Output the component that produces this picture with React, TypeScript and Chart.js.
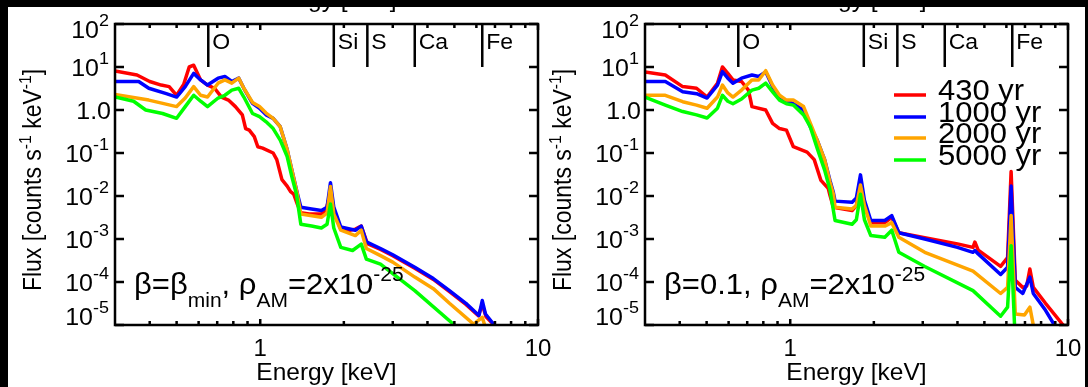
import { useEffect, useRef } from "react";
import { Chart, registerables } from "chart.js";
Chart.register(...registerables);

// ---------- data ----------
const SERIES_LABELS = ["430 yr", "1000 yr", "2000 yr", "5000 yr"];
const SERIES_COLORS = ["#ff0000", "#0000ff", "#ffa500", "#00ff00"];

const LINE_NAMES = ["O", "Si", "S", "Ca", "Fe"];
const LINE_ENERGIES = [0.65, 1.84, 2.43, 3.6, 6.3];

const X_MIN = 0.3;
const X_MAX = 10;
const Y_MIN = 1e-5;
const Y_MAX = 100;
const X_MAJOR_TICKS = [1, 10];
const X_MAJOR_LABELS = ["1", "10"];
const X_MINOR_TICKS = [0.4, 0.5, 0.6, 0.7, 0.8, 0.9, 2, 3, 4, 5, 6, 7, 8, 9];
const Y_DECADES = [2, 1, 0, -1, -2, -3, -4, -5];

// Left panel: beta = beta_min
const L430_E = [0.30, 0.36, 0.40, 0.44, 0.47, 0.50, 0.53, 0.555, 0.576, 0.61, 0.646, 0.685, 0.725, 0.768, 0.814, 0.862, 0.886, 0.913, 0.952, 0.98, 1.02, 1.113, 1.147, 1.197, 1.25, 1.286, 1.32, 1.36, 1.40, 1.50, 1.66, 1.73, 1.79, 1.85, 1.95, 2.10, 2.20, 2.31, 2.43, 2.71, 3.0, 3.6, 4.2, 4.8, 5.5, 6.1, 6.3, 6.5, 7.0, 7.5];
const L430_F = [8.1, 6.5, 4.6, 3.8, 3.5, 2.2, 3.9, 10, 11, 5.0, 3.8, 3.2, 2.0, 1.7, 1.2, 0.77, 0.37, 0.34, 0.24, 0.14, 0.13, 0.10, 0.07, 0.024, 0.017, 0.0126, 0.011, 0.0065, 0.0041, 0.0038, 0.0038, 0.005, 0.012, 0.004, 0.0017, 0.0016, 0.0017, 0.002, 0.00078, 0.00057, 0.00041, 0.00021, 0.000115, 0.00006, 0.00003, 0.0000165, 0.00003, 0.0000155, 0.0000095, 0.000006];

const L1000_E = [0.30, 0.365, 0.397, 0.459, 0.50, 0.537, 0.576, 0.61, 0.646, 0.705, 0.746, 0.79, 0.837, 0.873, 0.938, 0.994, 1.05, 1.113, 1.18, 1.25, 1.30, 1.36, 1.40, 1.53, 1.66, 1.74, 1.79, 1.84, 1.95, 2.2, 2.31, 2.41, 2.71, 3.0, 3.6, 4.2, 4.8, 5.5, 6.13, 6.3, 6.47, 6.96, 7.5];
const L1000_F = [4.6, 4.6, 3.2, 2.4, 2.0, 3.5, 7.1, 5.0, 3.8, 5.5, 6.0, 4.6, 5.5, 3.2, 1.43, 1.1, 0.77, 0.64, 0.41, 0.12, 0.04, 0.0115, 0.0055, 0.005, 0.0046, 0.0055, 0.0204, 0.0055, 0.0019, 0.0016, 0.002, 0.00086, 0.0006, 0.00043, 0.00022, 0.00012, 0.000063, 0.000032, 0.0000166, 0.000037, 0.000018, 0.00001, 0.000006];

const L2000_E = [0.30, 0.397, 0.50, 0.537, 0.576, 0.61, 0.646, 0.705, 0.746, 0.79, 0.837, 0.873, 0.938, 0.994, 1.05, 1.113, 1.18, 1.25, 1.30, 1.36, 1.40, 1.66, 1.74, 1.79, 1.84, 1.95, 2.2, 2.31, 2.41, 2.71, 3.0, 3.6, 4.2, 4.8, 5.86, 6.3, 6.5];
const L2000_F = [2.3, 1.7, 1.2, 1.9, 3.5, 2.2, 2.0, 4.2, 5.0, 4.2, 5.5, 3.2, 1.5, 1.2, 0.85, 0.64, 0.41, 0.12, 0.04, 0.011, 0.0038, 0.0032, 0.004, 0.0166, 0.0038, 0.0016, 0.0012, 0.0016, 0.0006, 0.00041, 0.00029, 0.00013, 0.00007, 0.000032, 0.0000105, 0.000015, 0.000008];

const L5000_E = [0.30, 0.35, 0.387, 0.445, 0.50, 0.537, 0.576, 0.61, 0.646, 0.705, 0.746, 0.79, 0.837, 0.873, 0.938, 0.994, 1.05, 1.113, 1.18, 1.25, 1.30, 1.35, 1.40, 1.53, 1.66, 1.74, 1.79, 1.84, 1.95, 2.15, 2.31, 2.41, 2.71, 3.6, 5.0, 5.5];
const L5000_F = [2.0, 1.6, 1.0, 0.83, 0.64, 1.2, 2.2, 1.6, 1.2, 1.9, 2.2, 2.9, 3.2, 2.0, 0.83, 0.7, 0.53, 0.37, 0.2, 0.083, 0.028, 0.011, 0.0022, 0.002, 0.0018, 0.0022, 0.0065, 0.0018, 0.00064, 0.00054, 0.00076, 0.00034, 0.00026, 0.000063, 0.00001, 0.000006];

// Right panel: beta = 0.1
const R430_E = [0.30, 0.355, 0.41, 0.46, 0.502, 0.547, 0.57, 0.596, 0.622, 0.668, 0.707, 0.72, 0.728, 0.816, 0.864, 0.915, 0.969, 1.026, 1.15, 1.22, 1.29, 1.37, 1.39, 1.43, 1.67, 1.73, 1.79, 1.85, 1.95, 2.19, 2.32, 2.46, 3.05, 4.0, 4.55, 4.62, 4.75, 5.72, 6.06, 6.24, 6.46, 6.87, 7.1, 7.29, 7.5, 8.3, 9.6, 10];
const R430_F = [7.7, 6.5, 3.5, 3.2, 2.0, 4.2, 10, 7.1, 5.0, 4.6, 2.9, 1.7, 1.2, 1.0, 0.49, 0.37, 0.34, 0.14, 0.105, 0.07, 0.023, 0.015, 0.0104, 0.0055, 0.0046, 0.006, 0.022, 0.006, 0.0024, 0.0024, 0.0032, 0.0014, 0.00107, 0.00077, 0.00064, 0.00085, 0.00055, 0.00023, 0.00037, 0.037, 0.00011, 0.000075, 0.00008, 0.0002, 0.000075, 0.000032, 0.00001, 0.000008];

const R1000_E = [0.30, 0.355, 0.41, 0.46, 0.502, 0.547, 0.57, 0.596, 0.622, 0.668, 0.728, 0.77, 0.816, 0.864, 0.915, 0.969, 1.026, 1.117, 1.18, 1.25, 1.33, 1.39, 1.43, 1.45, 1.67, 1.73, 1.79, 1.85, 1.95, 2.19, 2.32, 2.46, 3.05, 4.0, 4.55, 4.62, 4.75, 5.72, 6.06, 6.24, 6.46, 6.87, 7.29, 7.5, 8.3, 8.93, 9.3];
const R1000_F = [4.6, 4.6, 2.65, 2.4, 1.9, 3.8, 7.8, 5.5, 4.2, 5.5, 6.5, 6.0, 7.7, 3.5, 2.0, 1.6, 1.4, 1.0, 0.41, 0.2, 0.07, 0.023, 0.012, 0.0076, 0.0072, 0.009, 0.031, 0.008, 0.0027, 0.0027, 0.0035, 0.0014, 0.001, 0.00064, 0.00049, 0.00054, 0.00045, 0.00015, 0.00022, 0.017, 0.000075, 0.000054, 0.00013, 0.000054, 0.000022, 0.00001, 0.000007];

const R2000_E = [0.30, 0.355, 0.41, 0.46, 0.502, 0.547, 0.57, 0.596, 0.622, 0.668, 0.728, 0.77, 0.816, 0.864, 0.915, 0.969, 1.026, 1.117, 1.18, 1.25, 1.33, 1.39, 1.43, 1.45, 1.67, 1.73, 1.79, 1.85, 1.95, 2.19, 2.32, 2.46, 3.05, 4.55, 5.72, 6.06, 6.24, 6.46, 6.97, 7.29, 7.5, 7.8];
const R2000_F = [2.2, 2.2, 1.56, 1.3, 1.1, 2.0, 3.8, 2.5, 2.0, 2.9, 5.0, 5.0, 8.2, 3.8, 2.2, 1.7, 1.7, 1.2, 0.5, 0.2, 0.07, 0.021, 0.011, 0.0055, 0.005, 0.006, 0.018, 0.006, 0.002, 0.002, 0.0024, 0.0011, 0.00049, 0.00018, 0.000054, 0.000075, 0.0035, 0.000018, 0.000017, 0.000026, 0.00001, 0.000007];

const R5000_E = [0.30, 0.355, 0.41, 0.46, 0.502, 0.547, 0.57, 0.596, 0.622, 0.668, 0.728, 0.77, 0.816, 0.864, 0.915, 0.969, 1.026, 1.117, 1.18, 1.25, 1.33, 1.39, 1.45, 1.67, 1.73, 1.79, 1.85, 1.95, 2.19, 2.32, 2.46, 3.05, 4.55, 5.72, 6.06, 6.24, 6.42, 6.5];
const R5000_F = [2.0, 1.3, 0.92, 0.77, 0.65, 1.1, 2.2, 1.6, 1.4, 1.8, 2.9, 3.2, 4.2, 2.65, 1.7, 1.4, 1.3, 0.77, 0.41, 0.13, 0.04, 0.014, 0.0027, 0.0022, 0.0028, 0.011, 0.0028, 0.0012, 0.0011, 0.0016, 0.00049, 0.00023, 0.000063, 0.000016, 0.000026, 0.0007, 0.00001, 0.000005];

// ---------- drawing helpers ----------
const FONT = '"Liberation Sans", Arial, Helvetica, sans-serif';
const fnt = (s: number) => `${s}px ${FONT}`;
const SQ = 0.96;

type Seg = { t: string; s: number; dy: number };

function drawRich(ctx: CanvasRenderingContext2D, segs: Seg[], x: number, y: number, align: string, sq: number) {
  let w = 0;
  const ws = segs.map((g) => {
    ctx.font = fnt(g.s);
    const m = ctx.measureText(g.t).width;
    w += m;
    return m;
  });
  let cx = align === "left" ? x : align === "right" ? x - w : x - w / 2;
  segs.forEach((g, i) => {
    ctx.save();
    ctx.translate(cx, y + g.dy);
    ctx.scale(1, sq);
    ctx.font = fnt(g.s);
    ctx.textAlign = "left";
    ctx.textBaseline = "alphabetic";
    ctx.fillText(g.t, 0, 0);
    ctx.restore();
    cx += ws[i];
  });
}

type PanelCfg = {
  series: number[][][];
  annot: Seg[];
  legend: boolean;
  canvasLeft: number;
  canvasWidth: number;
  padLeft: number;
  padRight: number;
  white: number[];
  blacks: number[][];
};

const PANELS: PanelCfg[] = [
  {
    series: [[L430_E, L430_F], [L1000_E, L1000_F], [L2000_E, L2000_F], [L5000_E, L5000_F]],
    annot: [
      { t: "β=β", s: 31, dy: 0 },
      { t: "min", s: 21, dy: 13 },
      { t: ", ρ", s: 31, dy: 0 },
      { t: "AM", s: 21, dy: 13 },
      { t: "=2x10", s: 31, dy: 0 },
      { t: "-25", s: 21, dy: -13 },
    ],
    legend: false,
    canvasLeft: 0,
    canvasWidth: 560,
    padLeft: 115,
    padRight: 22,
    white: [8, 7, 552, 380],
    blacks: [[0, 0, 560, 7], [0, 0, 8, 387]],
  },
  {
    series: [[R430_E, R430_F], [R1000_E, R1000_F], [R2000_E, R2000_F], [R5000_E, R5000_F]],
    annot: [
      { t: "β=0.1, ρ", s: 31, dy: 0 },
      { t: "AM", s: 21, dy: 13 },
      { t: "=2x10", s: 31, dy: 0 },
      { t: "-25", s: 21, dy: -13 },
    ],
    legend: true,
    canvasLeft: 544,
    canvasWidth: 544,
    padLeft: 101,
    padRight: 20,
    white: [16, 7, 525, 380],
    blacks: [[16, 0, 528, 7], [541, 0, 3, 387]],
  },
];

function makePlugin(cfg: PanelCfg) {
  return {
    id: "idlframe",
    beforeDraw(chart: any) {
      const ctx: CanvasRenderingContext2D = chart.ctx;
      const a = chart.chartArea;
      ctx.save();
      ctx.fillStyle = "#fff";
      ctx.fillRect(cfg.white[0], cfg.white[1], cfg.white[2], cfg.white[3]);
      // cut-off title of the figure above
      ctx.fillStyle = "#000";
      drawRich(ctx, [{ t: "Energy [keV]", s: 24.5, dy: 0 }], (a.left + a.right) / 2, 7, "center", SQ);
      cfg.blacks.forEach((b) => ctx.fillRect(b[0], b[1], b[2], b[3]));
      ctx.restore();
    },
    afterDatasetsDraw(chart: any) {
      const ctx: CanvasRenderingContext2D = chart.ctx;
      const a = chart.chartArea;
      const xs = chart.scales.x;
      const ys = chart.scales.y;
      ctx.save();
      ctx.strokeStyle = "#000";
      ctx.fillStyle = "#000";
      ctx.lineWidth = 2.5;
      ctx.lineCap = "butt";
      ctx.strokeRect(a.left, a.top, a.right - a.left, a.bottom - a.top);
      // x ticks
      ctx.beginPath();
      X_MAJOR_TICKS.forEach((v) => {
        const px = xs.getPixelForValue(v);
        ctx.moveTo(px, a.bottom); ctx.lineTo(px, a.bottom - 6);
        ctx.moveTo(px, a.top); ctx.lineTo(px, a.top + 6);
      });
      X_MINOR_TICKS.forEach((v) => {
        const px = xs.getPixelForValue(v);
        ctx.moveTo(px, a.bottom); ctx.lineTo(px, a.bottom - 4);
        ctx.moveTo(px, a.top); ctx.lineTo(px, a.top + 4);
      });
      // y ticks
      Y_DECADES.forEach((d) => {
        const py = ys.getPixelForValue(Math.pow(10, d));
        ctx.moveTo(a.left, py); ctx.lineTo(a.left + 9, py);
        ctx.moveTo(a.right, py); ctx.lineTo(a.right - 9, py);
      });
      ctx.stroke();
      // y tick labels
      Y_DECADES.forEach((d) => {
        const py = ys.getPixelForValue(Math.pow(10, d));
        let base = py + 9;
        if (d === 2) base = py + 14;
        if (d === -5) base = py;
        if (d === 0) {
          drawRich(ctx, [{ t: "1.0", s: 25, dy: 0 }], a.left - 4, base, "right", SQ);
        } else {
          drawRich(ctx, [{ t: "10", s: 25, dy: 0 }, { t: String(d), s: 18, dy: -12 }], a.left - 6, base, "right", SQ);
        }
      });
      // x tick labels
      X_MAJOR_TICKS.forEach((v, i) => {
        drawRich(ctx, [{ t: X_MAJOR_LABELS[i], s: 24, dy: 0 }], xs.getPixelForValue(v), a.bottom + 31, "center", SQ);
      });
      // x title
      drawRich(ctx, [{ t: "Energy [keV]", s: 24.5, dy: 0 }], (a.left + a.right) / 2, a.bottom + 55, "center", SQ);
      // y title (rotated)
      ctx.save();
      ctx.translate(a.left - 74, 180);
      ctx.rotate(-Math.PI / 2);
      ctx.scale(0.92, 1);
      drawRich(ctx, [
        { t: "Flux [counts s", s: 25, dy: 0 },
        { t: "-1", s: 17, dy: -10 },
        { t: " keV", s: 25, dy: 0 },
        { t: "-1", s: 17, dy: -10 },
        { t: "]", s: 25, dy: 0 },
      ], 0, 0, "center", 1);
      ctx.restore();
      // emission line markers
      ctx.beginPath();
      LINE_ENERGIES.forEach((e) => {
        const px = xs.getPixelForValue(e);
        ctx.moveTo(px, a.top); ctx.lineTo(px, a.top + 43);
      });
      ctx.stroke();
      LINE_ENERGIES.forEach((e, i) => {
        const px = xs.getPixelForValue(e);
        drawRich(ctx, [{ t: LINE_NAMES[i], s: 23, dy: 0 }], px + 4, a.top + 25, "left", SQ);
      });
      // annotation
      drawRich(ctx, cfg.annot, a.left + 19, a.bottom - 31, "left", SQ);
      // legend
      if (cfg.legend) {
        const rows = [95, 117, 138, 160];
        rows.forEach((ry, i) => {
          ctx.strokeStyle = SERIES_COLORS[i];
          ctx.lineWidth = 3.5;
          ctx.beginPath();
          ctx.moveTo(a.left + 249, ry);
          ctx.lineTo(a.left + 281, ry);
          ctx.stroke();
          ctx.fillStyle = "#000";
          drawRich(ctx, [{ t: SERIES_LABELS[i], s: 31, dy: 0 }], a.left + 293, ry + 5, "left", SQ);
        });
      }
      ctx.restore();
    },
  };
}

function Panel({ cfg }: { cfg: PanelCfg }) {
  const ref = useRef<HTMLCanvasElement | null>(null);
  useEffect(() => {
    if (!ref.current) return;
    const chart = new Chart(ref.current, {
      type: "line",
      data: {
        datasets: cfg.series.map((s, i) => ({
          label: SERIES_LABELS[i],
          data: s[0].map((e, j) => ({ x: e, y: s[1][j] })),
          borderColor: SERIES_COLORS[i],
          backgroundColor: SERIES_COLORS[i],
          borderWidth: 3.5,
          pointRadius: 0,
          tension: 0,
          fill: false,
          borderJoinStyle: "round",
          clip: 0,
          order: 3 - i,
        })),
      },
      options: {
        responsive: false,
        animation: false,
        events: [],
        layout: { padding: { left: cfg.padLeft, right: cfg.padRight, top: 24, bottom: 62 } },
        plugins: { legend: { display: false }, tooltip: { enabled: false } },
        scales: {
          x: { type: "logarithmic", min: X_MIN, max: X_MAX, display: false },
          y: { type: "logarithmic", min: Y_MIN, max: Y_MAX, display: false },
        },
      } as any,
      plugins: [makePlugin(cfg)],
    } as any);
    return () => chart.destroy();
  }, [cfg]);
  return (
    <canvas
      ref={ref}
      width={cfg.canvasWidth}
      height={387}
      style={{ position: "absolute", display: "block", left: cfg.canvasLeft, top: 0, width: cfg.canvasWidth, height: 387 }}
    />
  );
}

export default function App() {
  return (
    <div style={{ position: "fixed", left: 0, top: 0, width: 1088, height: 387, background: "#fff", overflow: "hidden" }}>
      <Panel cfg={PANELS[0]} />
      <Panel cfg={PANELS[1]} />
    </div>
  );
}
